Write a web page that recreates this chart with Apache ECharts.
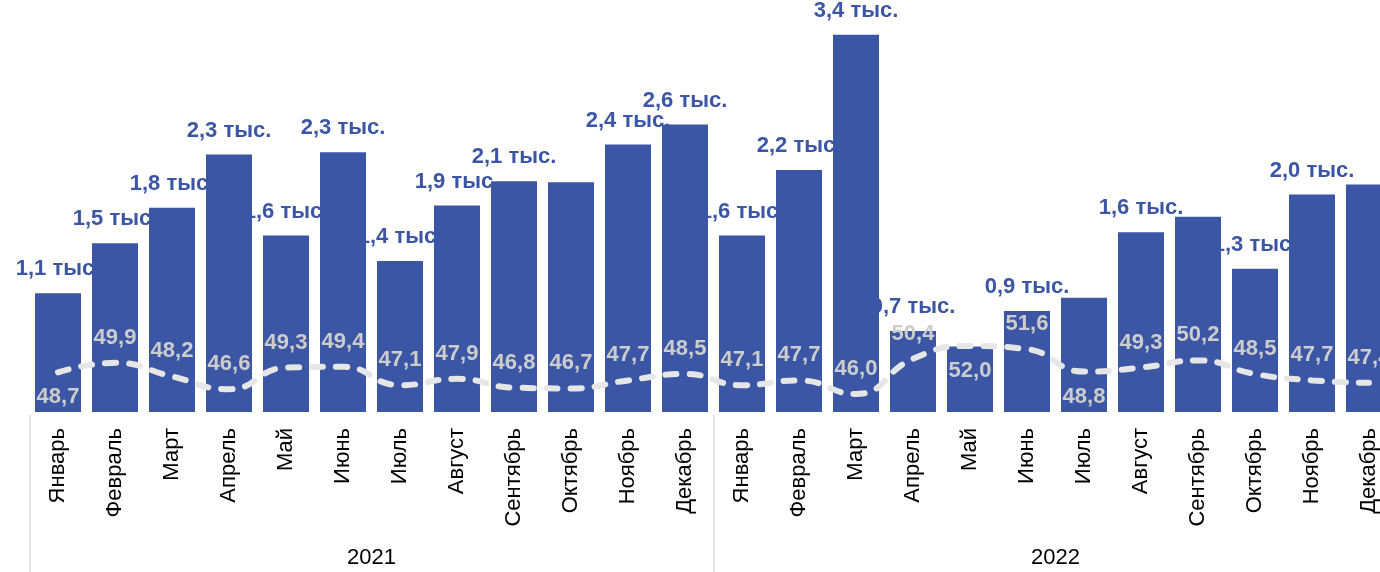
<!DOCTYPE html>
<html>
<head>
<meta charset="utf-8">
<script src="https://cdn.jsdelivr.net/npm/echarts@6/dist/echarts.min.js"></script>
<style>
html,body{margin:0;padding:0;background:#fff;}
#c{width:1380px;height:572px;}
</style>
</head>
<body>
<div id="c"></div>
<script>
const months = ['Январь','Февраль','Март','Апрель','Май','Июнь','Июль','Август','Сентябрь','Октябрь','Ноябрь','Декабрь',
                'Январь','Февраль','Март','Апрель','Май','Июнь','Июль','Август','Сентябрь','Октябрь','Ноябрь','Декабрь'];
const years = ['2021','2022'];
const barValues = [1.07,1.52,1.84,2.32,1.59,2.34,1.36,1.86,2.08,2.07,2.41,2.59,
                   1.59,2.18,3.40,0.73,0.59,0.91,1.03,1.62,1.76,1.29,1.96,2.05];
const lineValues = [48.7,49.9,48.2,46.6,49.3,49.4,47.1,47.9,46.8,46.7,47.7,48.5,
                    47.1,47.7,46.0,50.4,52.0,51.6,48.8,49.3,50.2,48.5,47.7,47.4];
const hiddenBarLabels = [9,16,18,20,23];
const lineLabelsBelow = [0,16,18];

const BLUE = '#3B56A4';
const fmt = v => v.toFixed(1).replace('.', ',');

const labelData = [];
barValues.forEach((v, i) => { if (hiddenBarLabels.indexOf(i) < 0) labelData.push([i, v]); });

const chart = echarts.init(document.getElementById('c'));
chart.setOption({
  animation: false,
  grid: {left: 29.5, top: 0, width: 1368, height: 412, containLabel: false, outerBoundsMode: 'none'},
  xAxis: [
    {
      type: 'category', data: months, position: 'bottom',
      axisLine: {show: false}, axisTick: {show: false},
      axisLabel: {interval: 0, rotate: 90, margin: 16, color: '#000',
        fontFamily: 'Liberation Sans, Arial, sans-serif', fontSize: 22}
    },
    {
      type: 'category', data: years, position: 'bottom', offset: 160,
      axisLine: {show: false},
      axisTick: {show: true, inside: true, length: 157, lineStyle: {color: '#e3e3e3', width: 2}},
      axisLabel: {inside: true, margin: 3, color: '#000',
        fontFamily: 'Liberation Sans, Arial, sans-serif', fontSize: 22}
    }
  ],
  yAxis: [
    {type: 'value', min: 0, max: 3.712, show: false, splitLine: {show: false}},
    {type: 'value', min: 43.75, max: 95.25, show: false, splitLine: {show: false}}
  ],
  series: [
    {
      name: 'labels', type: 'custom', xAxisIndex: 0, yAxisIndex: 0, z: 1, silent: true,
      data: labelData,
      renderItem: function (params, api) {
        const pt = api.coord([api.value(0), api.value(1)]);
        return {
          type: 'text', x: pt[0], y: pt[1] - 13,
          style: {
            text: fmt(api.value(1)) + ' тыс.',
            fill: BLUE, align: 'center', verticalAlign: 'bottom',
            font: 'bold 22px "Liberation Sans", Arial, sans-serif'
          }
        };
      }
    },
    {
      name: 'bars', type: 'bar', xAxisIndex: 0, yAxisIndex: 0, z: 2,
      barCategoryGap: '19.3%',
      itemStyle: {color: BLUE},
      data: barValues
    },
    {
      name: 'line', type: 'line', xAxisIndex: 0, yAxisIndex: 1, z: 3,
      smooth: true, symbol: 'circle', symbolSize: 2,
      itemStyle: {color: 'rgba(0,0,0,0)'},
      lineStyle: {color: '#e6e6e6', width: 6, type: [11, 13], cap: 'round'},
      data: lineValues.map((v, i) => ({value: v, label: {position: lineLabelsBelow.indexOf(i) >= 0 ? 'bottom' : 'top'}})),
      label: {
        show: true, distance: 13, color: '#cdcdcd', fontWeight: 'bold', fontSize: 22,
        fontFamily: 'Liberation Sans, Arial, sans-serif',
        formatter: p => fmt(p.value)
      }
    }
  ]
});
</script>
</body>
</html>
